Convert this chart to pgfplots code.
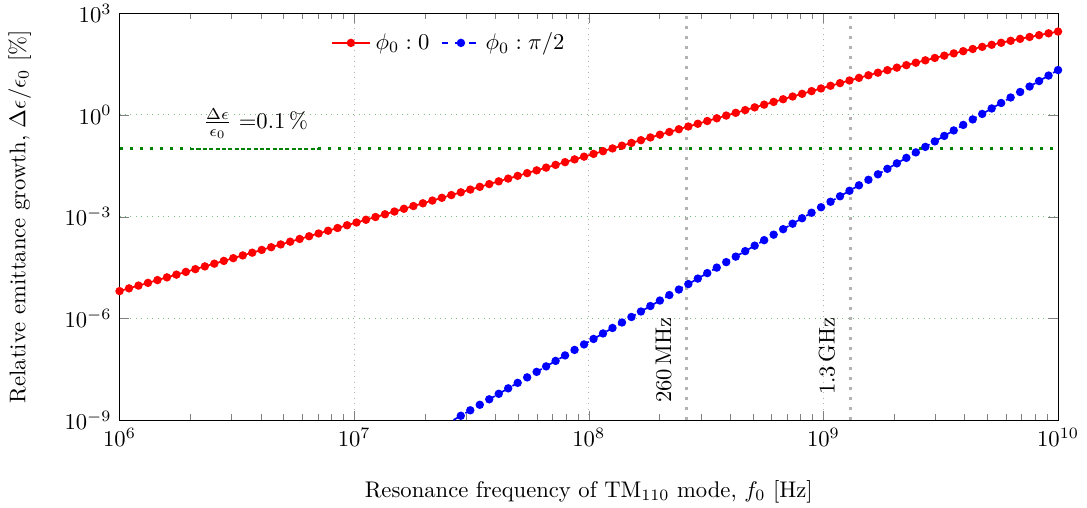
\documentclass[border=0pt]{standalone}
\usepackage{pgfplots}
\usepackage{pgfplotstable}
\pgfplotsset{compat=1.18}

% phi_0 = 0
\pgfplotstableread{
f y
1.0000e6 6.4565e-6
1.0975e6 7.7769e-6
1.2045e6 9.3674e-6
1.3219e6 1.1283e-5
1.4508e6 1.3590e-5
1.5923e6 1.6370e-5
1.7475e6 1.9717e-5
1.9179e6 2.3750e-5
2.1049e6 2.8606e-5
2.3101e6 3.4457e-5
2.5354e6 4.1503e-5
2.7826e6 4.9991e-5
3.0539e6 6.0214e-5
3.3516e6 7.2528e-5
3.6784e6 8.7360e-5
4.0370e6 1.0523e-4
4.4306e6 1.2675e-4
4.8626e6 1.5266e-4
5.3367e6 1.8389e-4
5.8570e6 2.2149e-4
6.4281e6 2.6679e-4
7.0548e6 3.2134e-4
7.7426e6 3.8706e-4
8.4975e6 4.6622e-4
9.3260e6 5.6156e-4
1.0235e7 6.7640e-4
1.1233e7 8.1472e-4
1.2328e7 9.8134e-4
1.3530e7 1.1820e-3
1.4850e7 1.4238e-3
1.6298e7 1.7149e-3
1.7887e7 2.0656e-3
1.9630e7 2.4880e-3
2.1544e7 2.9969e-3
2.3645e7 3.6097e-3
2.5950e7 4.3479e-3
2.8480e7 5.2371e-3
3.1257e7 6.3081e-3
3.4305e7 7.5981e-3
3.7649e7 9.1519e-3
4.1320e7 1.1024e-2
4.5349e7 1.3278e-2
4.9770e7 1.5993e-2
5.4623e7 1.9264e-2
5.9948e7 2.3204e-2
6.5793e7 2.7949e-2
7.2208e7 3.3664e-2
7.9248e7 4.0549e-2
8.6975e7 4.8841e-2
9.5455e7 5.8830e-2
1.0476e8 7.0861e-2
1.1498e8 8.5351e-2
1.2619e8 0.10281
1.3849e8 0.12383
1.5199e8 0.14916
1.6681e8 0.17966
1.8307e8 0.21640
2.0092e8 0.26065
2.2051e8 0.31396
2.4201e8 0.37816
2.6561e8 0.4546
2.9151e8 0.5473
3.1993e8 0.6589
3.5112e8 0.7932
3.8535e8 0.9547
4.2292e8 1.1490
4.6416e8 1.3825
5.0941e8 1.6632
5.5908e8 2.0003
6.1359e8 2.4051
6.7342e8 2.8908
7.3907e8 3.4730
8.1113e8 4.1705
8.9022e8 5.0052
9.7701e8 6.0027
1.0723e9 7.1931
1.1768e9 8.6114
1.2916e9 10.298
1.4175e9 12.300
1.5557e9 14.668
1.7074e9 17.463
1.8738e9 20.752
2.0565e9 24.610
2.2570e9 29.116
2.4771e9 34.360
2.7186e9 40.438
2.9836e9 47.452
3.2746e9 55.511
3.5938e9 64.733
3.9442e9 75.236
4.3288e9 87.157
4.7508e9 100.64
5.2140e9 115.81
5.7224e9 132.84
6.2803e9 151.91
6.8926e9 173.19
7.5646e9 196.88
8.3022e9 223.20
9.1116e9 252.40
1.0000e10 284.72
}\phizero

% phi_0 = pi/2
\pgfplotstableread{
f y
2.3645e7 6.5306e-10
2.5950e7 9.4747e-10
2.8480e7 1.3746e-9
3.1257e7 1.9943e-9
3.4305e7 2.8934e-9
3.7649e7 4.1979e-9
4.1320e7 6.0904e-9
4.5349e7 8.8362e-9
4.9770e7 1.2820e-8
5.4623e7 1.8599e-8
5.9948e7 2.6984e-8
6.5793e7 3.9150e-8
7.2208e7 5.6800e-8
7.9248e7 8.2406e-8
8.6975e7 1.1956e-7
9.5455e7 1.7346e-7
1.0476e8 2.5166e-7
1.1498e8 3.6511e-7
1.2619e8 5.2971e-7
1.3849e8 7.6852e-7
1.5199e8 1.1150e-6
1.6681e8 1.6177e-6
1.8307e8 2.3470e-6
2.0092e8 3.4050e-6
2.2051e8 4.9401e-6
2.4201e8 7.1673e-6
2.6561e8 1.0399e-5
2.9151e8 1.5086e-5
3.1993e8 2.1888e-5
3.5112e8 3.1756e-5
3.8535e8 4.6072e-5
4.2292e8 6.6842e-5
4.6416e8 9.6977e-5
5.0941e8 1.4070e-4
5.5908e8 2.0413e-4
6.1359e8 2.9615e-4
6.7342e8 4.2967e-4
7.3907e8 6.2337e-4
8.1113e8 9.0441e-4
8.9022e8 1.3121e-3
9.7701e8 1.9037e-3
1.0723e9 2.7619e-3
1.1768e9 4.0071e-3
1.2916e9 5.8136e-3
1.4175e9 8.4345e-3
1.5557e9 1.2237e-2
1.7074e9 1.7754e-2
1.8738e9 2.5758e-2
2.0565e9 3.7370e-2
2.2570e9 5.4218e-2
2.4771e9 7.8661e-2
2.7186e9 0.11412
2.9836e9 0.16557
3.2746e9 0.24022
3.5938e9 0.34852
3.9442e9 0.50564
4.3288e9 0.73359
4.7508e9 1.0643
5.2140e9 1.5442
5.7224e9 2.2403
6.2803e9 3.2503
6.8926e9 4.7156
7.5646e9 6.8415
8.3022e9 9.9259
9.1116e9 14.401
1.0000e10 20.893
}\phihalfpi

\begin{document}
\begin{tikzpicture}
\begin{axis}[
    xmode=log, ymode=log,
    scale only axis,
    width=414.6pt, height=180pt,
    xmin=1e6, xmax=1e10,
    ymin=1e-9, ymax=1e3,
    ytick={1e-9,1e-6,1e-3,1e0,1e3},
    yminorticks=false,
    grid=major,
    x grid style={dotted, gray!60},
    y grid style={dotted, green!50!black!50},
    xlabel={Resonance frequency of TM$_{110}$ mode, $f_0$ [Hz]},
    ylabel={Relative emittance growth, $\Delta\epsilon/\epsilon_0$ [\%]},
    xlabel style={yshift=-8pt},
    ylabel style={yshift=8pt},
    legend columns=2,
    legend style={draw=none, fill=none, at={(0.352,0.975)}, anchor=north,
        /tikz/every even column/.append style={column sep=3pt}},
]
% reference lines
\addplot[forget plot, gray!60, line width=1.33pt, dash pattern=on 1.33pt off 3.1pt]
    coordinates {(2.6e8,1e-9) (2.6e8,1e3)};
\addplot[forget plot, gray!60, line width=1.33pt, dash pattern=on 1.33pt off 3.1pt]
    coordinates {(1.3e9,1e-9) (1.3e9,1e3)};
\addplot[forget plot, green!50!black, line width=0.6pt, dash pattern=on 1.8pt off 1pt]
    coordinates {(2e6,0.1) (7e6,0.1)};

% curves
\addplot[red, line width=0.75pt, mark=*, mark size=1.46pt] table {\phizero};
\addplot[blue, line width=0.75pt, dashed, mark=*, mark size=1.46pt, mark options={solid}] table {\phihalfpi};

\addplot[forget plot, green!50!black, line width=1.33pt, dash pattern=on 1.33pt off 3.1pt]
    coordinates {(1e6,0.1) (2e6,0.1)};
\addplot[forget plot, green!50!black, line width=1.33pt, dash pattern=on 1.33pt off 3.1pt]
    coordinates {(7e6,0.1) (1e10,0.1)};

\legend{$\phi_0 : 0$, $\phi_0 : \pi/2$}

\node[anchor=west, inner sep=0pt] at (axis cs:2.27e6,0.55) {$\frac{\Delta\epsilon}{\epsilon_0}$ ${=}0.1\,\%$};
\node[rotate=90, anchor=south east, inner sep=0pt] at ([xshift=-6.2pt]axis cs:2.6e8,1.12e-6) {260\,MHz};
\node[rotate=90, anchor=south east, inner sep=0pt] at ([xshift=-6.4pt]axis cs:1.3e9,1.12e-6) {1.3\,GHz};
\end{axis}
\pgfresetboundingbox
\useasboundingbox ([xshift=-52.8pt,yshift=-38.5pt]current axis.south west)
    rectangle ([xshift=12.8pt,yshift=5.75pt]current axis.north east);
\end{tikzpicture}
\end{document}
